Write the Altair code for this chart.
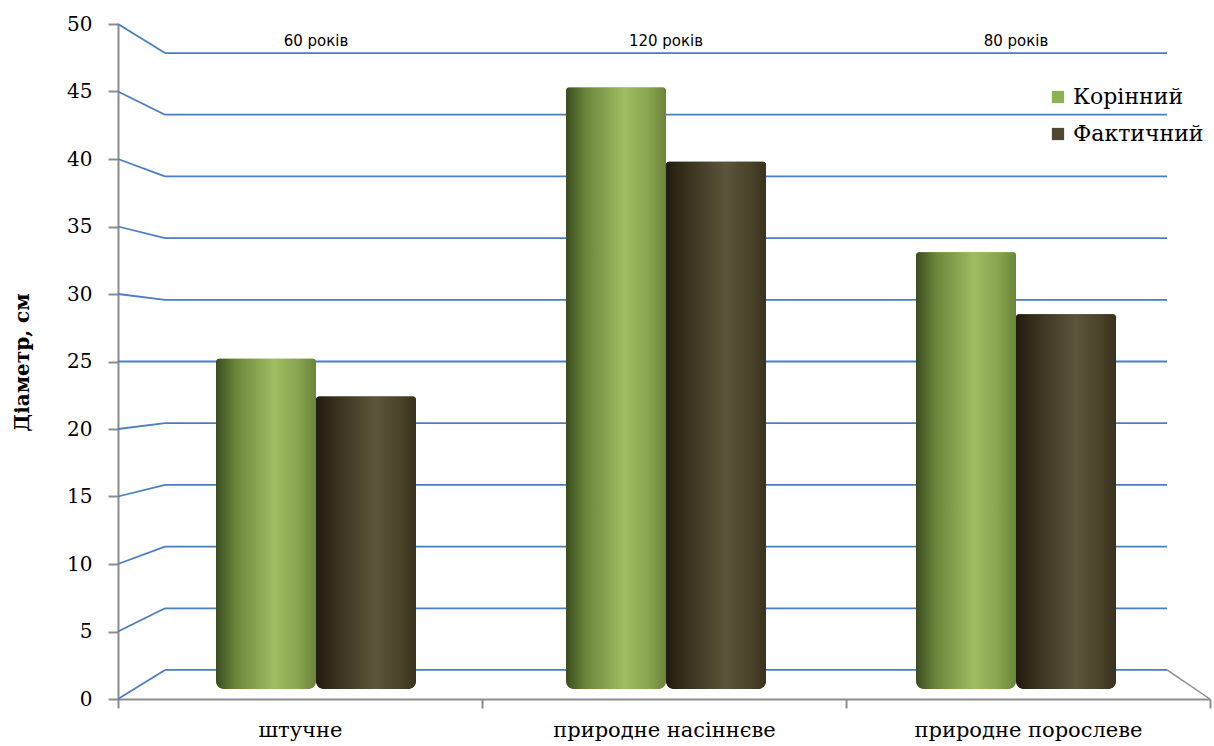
import altair as alt
import pandas as pd

# ---- data ----
categories = ["штучне", "природне насіннєве", "природне порослеве"]
series = ["Корінний", "Фактичний"]
root_diam = [25.2, 45.3, 33.1]      # Корінний
actual_diam = [22.4, 39.8, 28.5]    # Фактичний
ages = ["60 років", "120 років", "80 років"]
y_ticks = list(range(0, 51, 5))

bars = pd.DataFrame({
    "cat": categories * 2,
    "series": [series[0]] * 3 + [series[1]] * 3,
    "d": root_diam + actual_diam,
})
ages_df = pd.DataFrame({"cat": categories, "age": ages})

# pseudo-3D back wall (styling only)
FLOOR = 2.15
SHRINK = 0.914
BAR_BASE = 0.75
grid = pd.DataFrame({"v": y_ticks})
grid["back"] = FLOOR + grid["v"] * SHRINK
floor_df = pd.DataFrame({"v": [0], "back": [FLOOR]})

GRID_BLUE = "#4a7ec4"
AXIS_GRAY = "#8c8c8c"
SERIF = "DejaVu Serif"

yscale = alt.Scale(domain=[0, 50], nice=False, zero=True)
# front (axis) scale and the slightly shifted scale of the bars (3D depth)
xscale = alt.Scale(domain=categories, paddingInner=0, paddingOuter=0)
bar_xscale = alt.Scale(domain=categories, range=[23, 1073],
                       paddingInner=0, paddingOuter=0)
off_scale = alt.Scale(domain=series, paddingInner=0, paddingOuter=0.75)

yaxis = alt.Axis(
    values=y_ticks, grid=False, labelFont=SERIF, labelFontSize=20,
    labelColor="black", labelPadding=16, tickSize=10, tickColor=AXIS_GRAY,
    tickWidth=2, domainColor=AXIS_GRAY, domainWidth=2,
    title="Діаметр, см", titleFont=SERIF, titleFontSize=20,
    titleFontWeight="bold", titleColor="black", titleX=-96, titleY=338,
    titleAngle=-90, titleAlign="center", titleBaseline="middle",
)
xaxis = alt.Axis(
    title=None, labelFont=SERIF, labelFontSize=21, labelColor="black",
    labelPadding=11, labelAngle=0, labelLimit=0, tickBand="extent", tickSize=9,
    tickColor=AXIS_GRAY, tickWidth=2, domainColor=AXIS_GRAY, domainWidth=2,
)

slants = alt.Chart(grid).mark_rule(color=GRID_BLUE, strokeWidth=1.8).encode(
    x=alt.value(0), x2=alt.value(47),
    y=alt.Y("v:Q", scale=yscale, axis=yaxis), y2="back:Q",
)
wall = alt.Chart(grid).mark_rule(color=GRID_BLUE, strokeWidth=1.8).encode(
    x=alt.value(47), x2=alt.value(1049),
    y=alt.Y("back:Q", scale=yscale, axis=yaxis),
)
floor_edge = alt.Chart(floor_df).mark_rule(color=AXIS_GRAY, strokeWidth=1.5).encode(
    x=alt.value(1049), x2=alt.value(1092),
    y=alt.Y("back:Q", scale=yscale, axis=yaxis), y2="v:Q",
)
axis_carrier = alt.Chart(ages_df).mark_point(opacity=0).encode(
    x=alt.X("cat:N", scale=xscale, axis=xaxis, sort=categories),
    y=alt.value(300),
)

base_enc = dict(
    x=alt.X("cat:N", scale=bar_xscale, axis=None, sort=categories),
    xOffset=alt.XOffset("series:N", scale=off_scale),
    y=alt.Y("d:Q", scale=yscale, axis=yaxis),
    y2=alt.datum(BAR_BASE),
)
corner = dict(cornerRadiusBottomLeft=8, cornerRadiusBottomRight=8,
              cornerRadiusTopLeft=3, cornerRadiusTopRight=3)

legend_bars = alt.Chart(bars).mark_bar(**corner).encode(
    color=alt.Color(
        "series:N",
        scale=alt.Scale(domain=series, range=["#8db256", "#4f4731"]),
        legend=alt.Legend(
            title=None, orient="none", legendX=929, legendY=62,
            symbolType="square", symbolSize=150, symbolStrokeWidth=0,
            labelFont=SERIF, labelFontSize=22, labelColor="black",
            rowPadding=15, labelOffset=4,
        ),
    ),
    **base_enc,
)

grad_green = alt.Gradient(
    gradient="linear", x1=0, x2=1, y1=0, y2=0,
    stops=[
        alt.GradientStop(color="#3b4d21", offset=0),
        alt.GradientStop(color="#6b863b", offset=0.2),
        alt.GradientStop(color="#9fbd62", offset=0.58),
        alt.GradientStop(color="#88a550", offset=0.82),
        alt.GradientStop(color="#6a8538", offset=1),
    ],
)
grad_dark = alt.Gradient(
    gradient="linear", x1=0, x2=1, y1=0, y2=0,
    stops=[
        alt.GradientStop(color="#211c0f", offset=0),
        alt.GradientStop(color="#3c3521", offset=0.25),
        alt.GradientStop(color="#5d553a", offset=0.6),
        alt.GradientStop(color="#4a4229", offset=0.84),
        alt.GradientStop(color="#39321e", offset=1),
    ],
)

layers = [slants, wall, floor_edge, axis_carrier, legend_bars]
for s, g in zip(series, [grad_green, grad_dark]):
    layers.append(
        alt.Chart(bars).transform_filter(alt.datum.series == s)
        .mark_bar(fill=g, **corner).encode(**base_enc)
    )

age_text = alt.Chart(ages_df).mark_text(
    font="DejaVu Sans", fontSize=15, color="black", baseline="middle"
).encode(
    x=alt.X("cat:N", scale=bar_xscale, axis=None, sort=categories),
    y=alt.value(17),
    text="age:N",
)
layers.append(age_text)

chart = alt.layer(*layers).resolve_scale(
    x="independent", xOffset="independent"
).properties(
    width=1092, height=675,
    autosize=alt.AutoSizeParams(type="none"),
    padding={"left": 118, "top": 24, "right": 4, "bottom": 47},
    background="white",
).configure_view(stroke=None)

chart.save("out.html", embed_options={"renderer": "svg", "actions": False})
